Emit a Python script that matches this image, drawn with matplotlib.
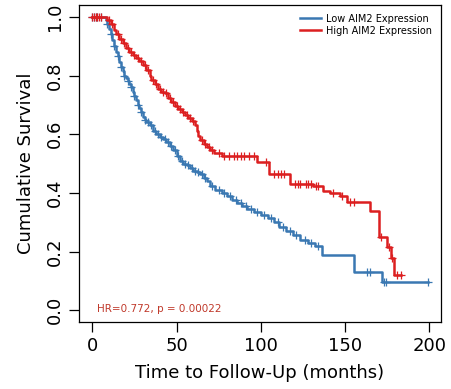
"""Kaplan-Meier curves: low vs high AIM2 expression."""
import matplotlib
matplotlib.use("Agg")
import matplotlib.pyplot as plt
import numpy as np

BLUE = "#3a78b2"
RED = "#dc1f20"

# step points (time in months, survival after the drop)
low_t = [0, 8, 9, 10, 11, 12, 13, 14, 15, 16, 17, 18, 19, 20, 21, 22, 23, 24, 25,
         26, 27, 28, 29, 30, 31, 32, 34, 36, 38, 40, 42, 44, 46, 48, 50, 52, 54,
         56, 58, 60, 62, 64, 66, 68, 70, 73, 77, 80, 83, 86, 89, 92, 96, 100, 104,
         108, 111, 115, 119, 123, 128, 132, 136, 155, 172, 199]
low_s = [1.0, 0.99, 0.975, 0.96, 0.94, 0.92, 0.90, 0.88, 0.865, 0.845, 0.83, 0.815,
         0.80, 0.79, 0.78, 0.77, 0.76, 0.745, 0.73, 0.715, 0.70, 0.69, 0.675, 0.66,
         0.65, 0.64, 0.63, 0.61, 0.60, 0.59, 0.585, 0.575, 0.56, 0.545, 0.525, 0.51,
         0.50, 0.495, 0.485, 0.475, 0.47, 0.465, 0.452, 0.44, 0.425, 0.41, 0.40,
         0.39, 0.375, 0.365, 0.355, 0.345, 0.335, 0.325, 0.315, 0.30, 0.285, 0.27,
         0.255, 0.24, 0.23, 0.22, 0.19, 0.13, 0.095, 0.095]
low_cens = [0, 1, 2, 3, 5, 9, 11, 13, 15, 17, 19, 21, 23, 25, 27, 29, 31, 33, 35, 37,
            39, 41, 43, 45, 47, 49, 51, 53, 55, 57, 59, 61, 63, 65, 67, 71, 75, 78,
            82, 85, 88, 91, 94, 98, 102, 106, 110, 113, 117, 121, 126, 130, 134,
            163, 165, 173, 174, 199]

high_t = [0, 9, 11, 13, 14, 16, 18, 20, 22, 24, 26, 28, 30, 32, 34, 35, 37, 39, 41,
          43, 45, 47, 49, 51, 53, 55, 57, 59, 61, 62, 63, 64, 66, 68, 70, 72, 77,
          98, 105, 117, 131, 137, 141, 147, 151, 165, 170, 175, 177, 179, 183]
high_s = [1.0, 0.99, 0.975, 0.955, 0.94, 0.925, 0.91, 0.895, 0.88, 0.87, 0.86, 0.85,
          0.835, 0.82, 0.80, 0.785, 0.77, 0.755, 0.745, 0.74, 0.725, 0.71, 0.695,
          0.685, 0.675, 0.665, 0.655, 0.645, 0.63, 0.61, 0.595, 0.58, 0.565, 0.555,
          0.545, 0.537, 0.527, 0.505, 0.466, 0.432, 0.422, 0.408, 0.40, 0.39, 0.37,
          0.34, 0.25, 0.215, 0.18, 0.12, 0.12]
high_cens = [0, 1, 2, 3, 4, 5, 10, 12, 15, 17, 19, 21, 23, 25, 27, 29, 31, 33, 36,
             38, 40, 42, 44, 46, 48, 50, 52, 54, 56, 58, 60, 65, 67, 69, 71, 75, 78,
             81, 84, 86, 88, 90, 93, 96, 103, 108, 110, 112, 114, 120, 122, 123, 127,
             128, 130, 133, 134, 143, 148, 153, 155, 171, 176, 178, 181, 183]


def surv_at(times, surv, t):
    idx = np.searchsorted(times, t, side="right") - 1
    return np.asarray(surv)[idx]


fig = plt.figure(figsize=(4.51, 3.89), dpi=100)
ax = fig.add_axes([0.175, 0.172, 0.803, 0.815])

for t, s, cens, col, lab in [(low_t, low_s, low_cens, BLUE, "Low AIM2 Expression"),
                             (high_t, high_s, high_cens, RED, "High AIM2 Expression")]:
    ax.step(t, s, where="post", color=col, lw=1.8, label=lab)
    ax.plot(cens, surv_at(t, s, cens), "+", color=col, ms=6, mew=0.9)

ax.set_xlim(-7.9, 206.9)
ax.set_ylim(-0.04, 1.04)
ax.set_xticks([0, 50, 100, 150, 200])
ax.set_yticks([0.0, 0.2, 0.4, 0.6, 0.8, 1.0])
ax.set_yticklabels(["0.0", "0.2", "0.4", "0.6", "0.8", "1.0"], rotation=90, va="center")
ax.tick_params(direction="out", length=7, width=0.9, labelsize=13, pad=4)
for sp in ax.spines.values():
    sp.set_linewidth(0.9)

ax.set_xlabel("Time to Follow-Up (months)", fontsize=13, labelpad=6)
ax.set_ylabel("Cumulative Survival", fontsize=13, labelpad=8)

ax.legend(loc="upper right", frameon=False, fontsize=7, handlelength=2.2,
          handletextpad=0.5, labelspacing=0.2, borderaxespad=0.5)
ax.text(3, 0.003, "HR=0.772, p = 0.00022", color="#c0392b", fontsize=7.5,
        va="center", ha="left")

fig.savefig("out.png", dpi=100)
